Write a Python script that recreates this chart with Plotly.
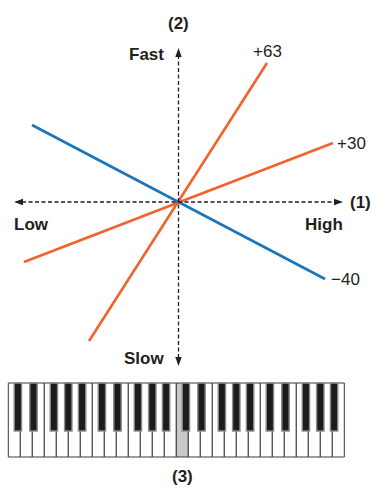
import plotly.graph_objects as go

# ---------------- data ----------------
# axis captions
h_axis_labels = ["Low", "High"]
h_axis_name = "(1)"
v_axis_labels = ["Fast", "Slow"]
v_axis_name = "(2)"
keyboard_name = "(3)"

# line series (origin at the crossing of the two axes)
series_names = ["+63", "+30", "\u221240"]
series_x_start = [-89.5, -154.5, -146.5]
series_y_start = [-139.0, -60.0, 77.0]
series_x_end = [88.5, 154.5, 146.5]
series_y_end = [139.0, 59.0, -77.0]

# keyboard: 4 octaves starting on C, one highlighted white key (middle C)
keyboard_octaves = 4
white_keys_per_octave = ["C", "D", "E", "F", "G", "A", "B"]
black_key_after = [0, 1, 3, 4, 5]          # black key follows these white keys
black_key_shift = [-0.2, 0.1, -0.2, 0.0, 0.15]
highlighted_white_key = 14

# ---------------- styles / geometry ----------------
W, H = 371, 488
X_RANGE = [-178.5, 192.5]
Y_RANGE = [-286.0, 202.0]
INK = "#231f20"
series_colors = ["#f1622d", "#f1622d", "#1a75bc"]
FONT = "Liberation Sans, Arial, sans-serif"

h_axis_ext = [-164.5, 164.5]
v_axis_ext = [-164.0, 154.0]
head_len, head_half = 9.0, 3.2

kb_left = -170.2
key_w = 12.0
kb_top, kb_bottom = -181.0, -255.0
black_bottom = -229.0
black_w = 7.4

fig = go.Figure()
shapes = []

# dashed axes
shapes.append(dict(type="line", xref="x", yref="y",
                   x0=h_axis_ext[0] + head_len - 1, x1=h_axis_ext[1] - head_len + 1, y0=0, y1=0,
                   line=dict(color=INK, width=1.3, dash="4px,2.5px")))
shapes.append(dict(type="line", xref="x", yref="y",
                   x0=0, x1=0, y0=v_axis_ext[0] + head_len - 1, y1=v_axis_ext[1] - head_len + 1,
                   line=dict(color=INK, width=1.3, dash="4px,2.5px")))

# arrow heads
hl, hh = head_len, head_half
a0, a1 = h_axis_ext
b0, b1 = v_axis_ext
heads = [
    f"M {a0},0 L {a0+hl},{hh} L {a0+hl},{-hh} Z",
    f"M {a1},0 L {a1-hl},{hh} L {a1-hl},{-hh} Z",
    f"M 0,{b1} L {hh},{b1-hl} L {-hh},{b1-hl} Z",
    f"M 0,{b0} L {hh},{b0+hl} L {-hh},{b0+hl} Z",
]
for p in heads:
    shapes.append(dict(type="path", xref="x", yref="y", path=p,
                       fillcolor=INK, line=dict(width=0)))

# keyboard: white keys
n_white = keyboard_octaves * len(white_keys_per_octave)
for i in range(n_white):
    x0 = kb_left + i * key_w
    shapes.append(dict(type="rect", xref="x", yref="y",
                       x0=x0, x1=x0 + key_w, y0=kb_bottom, y1=kb_top,
                       fillcolor="#c8c8c8" if i == highlighted_white_key else "white",
                       line=dict(color="#3a3a3a", width=1)))
# keyboard: black keys
for o in range(keyboard_octaves):
    for after, shift in zip(black_key_after, black_key_shift):
        cx = kb_left + (o * 7 + after + 1 + shift) * key_w
        shapes.append(dict(type="rect", xref="x", yref="y",
                           x0=cx - black_w / 2, x1=cx + black_w / 2,
                           y0=black_bottom, y1=kb_top,
                           fillcolor="#1c1c1c", line=dict(color="#8c8c8c", width=1.4)))

# series lines
for name, xs, ys, xe, ye, col in zip(series_names, series_x_start, series_y_start,
                                     series_x_end, series_y_end, series_colors):
    fig.add_trace(go.Scatter(x=[xs, xe], y=[ys, ye], mode="lines", name=name,
                             line=dict(color=col, width=2.6), hoverinfo="skip",
                             showlegend=False))

ann = []
def label(text, x, y, xa="center", ya="middle", bold=True, size=17):
    ann.append(dict(text=text, x=x, y=y, xref="x", yref="y", showarrow=False,
                    xanchor=xa, yanchor=ya,
                    font=dict(family=FONT, size=size, color=INK,
                              weight="bold" if bold else "normal")))

# series end labels
label(series_names[0], series_x_end[0], series_y_end[0] + 12, "center", "middle", bold=False)
label(series_names[1], series_x_end[1] + 2, series_y_end[1], "left", "middle", bold=False)
label(series_names[2], series_x_end[2] + 4, series_y_end[2], "left", "middle", bold=False)

# axis labels
label(h_axis_labels[0], h_axis_ext[0] - 2, -22, "left")
label(h_axis_labels[1], h_axis_ext[1] + 2, -22, "right")
label(h_axis_name, h_axis_ext[1] + 5, 0, "left")
label(v_axis_labels[0], -13, v_axis_ext[1] - 6, "right")
label(v_axis_labels[1], -13, v_axis_ext[0] + 8, "right")
label(v_axis_name, 0, v_axis_ext[1] + 25, "center")
label(keyboard_name, kb_left + (highlighted_white_key + 0.5) * key_w, -274.7, "center")

fig.update_layout(
    width=W, height=H, margin=dict(l=0, r=0, t=0, b=0),
    paper_bgcolor="white", plot_bgcolor="white",
    xaxis=dict(range=X_RANGE, visible=False, fixedrange=True),
    yaxis=dict(range=Y_RANGE, visible=False, fixedrange=True),
    shapes=shapes, annotations=ann, showlegend=False, hovermode=False,
)

fig.write_html("out.html", config={"displayModeBar": False, "staticPlot": True},
               post_script="document.body.style.margin='0';document.body.style.overflow='hidden';")
